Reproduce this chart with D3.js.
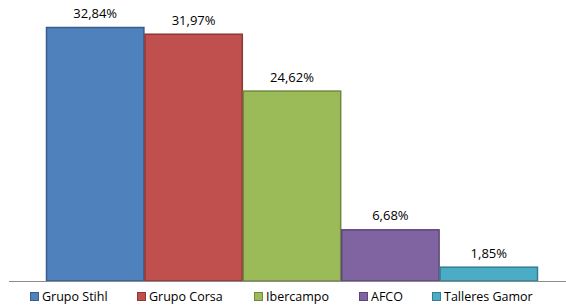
<!DOCTYPE html>
<html lang="es">
<head>
<meta charset="utf-8" />
<title>Cuota</title>
<script src="https://d3js.org/d3.v7.min.js"></script>
<style>
  body { margin: 0; background: #fff; font-family: "Open Sans", "Liberation Sans", sans-serif; }
  .lbl { font-size: 13px; fill: #000; }
  .leg text { font-size: 12.5px; fill: #000; }
</style>
</head>
<body>
<svg id="chart" width="566" height="307"></svg>
<script>
var categories = ["Grupo Stihl", "Grupo Corsa", "Ibercampo", "AFCO", "Talleres Gamor"];
var values = [32.84, 31.97, 24.62, 6.68, 1.85];
var labels = ["32,84%", "31,97%", "24,62%", "6,68%", "1,85%"];
var fills = ["#4F81BD", "#C0504D", "#9BBB59", "#8064A2", "#4BACC6"];
var strokes = ["#385D8A", "#8C3836", "#71893F", "#5C4776", "#357D91"];

var svg = d3.select("#chart");
var baseY = 281;

var x = d3.scaleBand().domain(categories).range([46, 538]).padding(0);
var y = d3.scaleLinear().domain([0, 32.84]).range([baseY, 27]);

svg.selectAll("rect.bar")
  .data(categories)
  .enter().append("rect")
  .attr("class", "bar")
  .attr("x", function(d) { return x(d) + 0.5; })
  .attr("y", function(d, i) { return y(values[i]) + 0.5; })
  .attr("width", x.bandwidth() - 1)
  .attr("height", function(d, i) { return baseY - y(values[i]) - 0.5; })
  .attr("fill", function(d, i) { return fills[i]; })
  .attr("stroke", function(d, i) { return strokes[i]; })
  .attr("stroke-width", 1.5);

// axis line
svg.append("line")
  .attr("x1", 9).attr("x2", 566)
  .attr("y1", baseY + 0.5).attr("y2", baseY + 0.5)
  .attr("stroke", "#8C8C8C").attr("stroke-width", 1);

svg.selectAll("text.lbl")
  .data(categories)
  .enter().append("text")
  .attr("class", "lbl")
  .attr("x", function(d) { return x(d) + x.bandwidth() / 2; })
  .attr("y", function(d, i) { return y(values[i]) - 9; })
  .attr("text-anchor", "middle")
  .text(function(d, i) { return labels[i]; });

// legend
var legX = [30, 137, 254, 359, 432];
var leg = svg.append("g").attr("class", "leg");
var item = leg.selectAll("g")
  .data(categories)
  .enter().append("g")
  .attr("transform", function(d, i) { return "translate(" + legX[i] + ",292)"; });
item.append("rect")
  .attr("x", 0.5).attr("y", 0.5)
  .attr("width", 8).attr("height", 8)
  .attr("fill", function(d, i) { return fills[i]; })
  .attr("stroke", function(d, i) { return strokes[i]; });
item.append("text")
  .attr("x", 12).attr("y", 9)
  .text(function(d) { return d; });
</script>
</body>
</html>
